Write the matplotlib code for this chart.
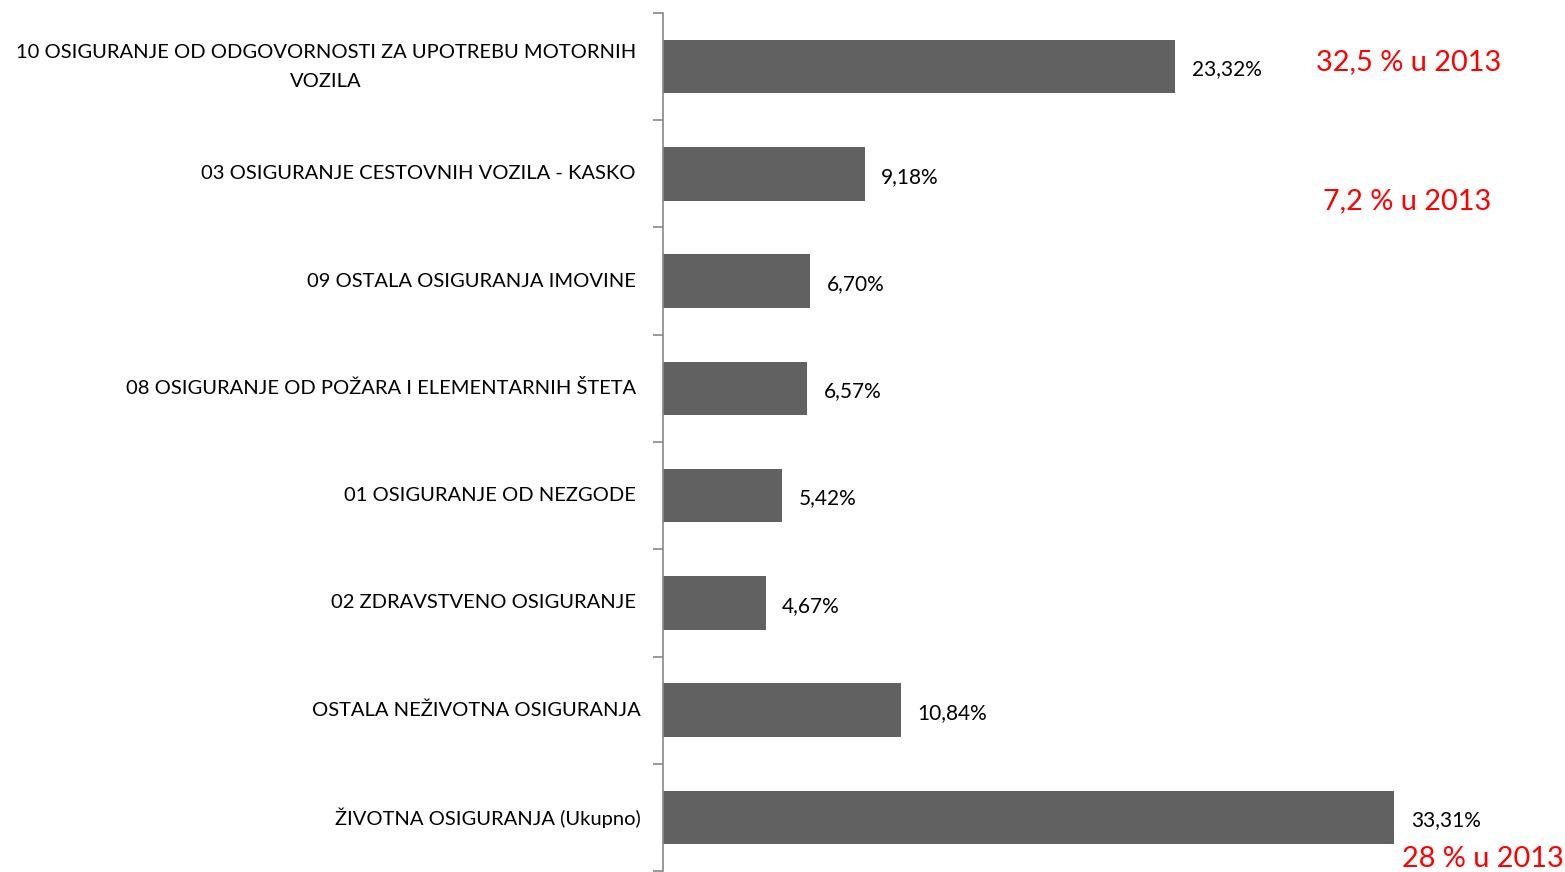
import matplotlib
matplotlib.use("Agg")
import matplotlib.pyplot as plt

categories = [
    "10 OSIGURANJE OD ODGOVORNOSTI ZA UPOTREBU MOTORNIH\nVOZILA",
    "03 OSIGURANJE CESTOVNIH VOZILA - KASKO",
    "09 OSTALA OSIGURANJA IMOVINE",
    "08 OSIGURANJE OD POŽARA I ELEMENTARNIH ŠTETA",
    "01 OSIGURANJE OD NEZGODE",
    "02 ZDRAVSTVENO OSIGURANJE",
    "OSTALA NEŽIVOTNA OSIGURANJA",
    "ŽIVOTNA OSIGURANJA (Ukupno)",
]
values = [23.32, 9.18, 6.70, 6.57, 5.42, 4.67, 10.84, 33.31]
value_labels = ["23,32%", "9,18%", "6,70%", "6,57%", "5,42%", "4,67%", "10,84%", "33,31%"]
notes = ["32,5 % u 2013", "7,2 % u 2013", "28 % u 2013"]

plt.rcParams['font.family'] = ['Lato', 'DejaVu Sans']

W, H = 1565, 872
fig = plt.figure(figsize=(W / 100, H / 100), dpi=100)
ax_left, ax_right = 663, 1565
ax_top, ax_bottom = 13, 871
ax = fig.add_axes([ax_left / W, 1 - ax_bottom / H, (ax_right - ax_left) / W, (ax_bottom - ax_top) / H])

n = len(categories)
ypos = list(range(n))
ax.barh(ypos, values, height=0.5, color="#616161")
ax.set_ylim(n - 0.5, -0.5)
px_per_unit = (1175 - 663) / 23.32
ax.set_xlim(0, (ax_right - ax_left) / px_per_unit)

for spine in ["top", "right", "bottom"]:
    ax.spines[spine].set_visible(False)
ax.spines["left"].set_color("#888888")
ax.spines["left"].set_linewidth(1.2)
ax.set_xticks([])
ax.set_yticks([i - 0.5 for i in range(n + 1)], minor=False)
ax.set_yticklabels([])
ax.tick_params(axis="y", length=7, width=1.2, color="#888888", direction="out")

for i, cat in enumerate(categories):
    off = -16 if i >= 6 else -19.5
    ax.annotate(cat, xy=(0, i), xycoords=("axes fraction", "data"),
                xytext=(off, 0), textcoords="offset points",
                ha="right", va="center", multialignment="center",
                fontsize=14.5, color="#000000", linespacing=1.85)

for i, (v, lab) in enumerate(zip(values, value_labels)):
    ax.annotate(lab, xy=(v, i), xytext=(12, -2), textcoords="offset points",
                ha="left", va="center", fontsize=15, color="#000000")

fig.text(1409 / W, 1 - 62 / H, notes[0], ha="center", va="center", fontsize=20.8, color="#ff0000")
fig.text(1407 / W, 1 - 201 / H, notes[1], ha="center", va="center", fontsize=20.8, color="#ff0000")
fig.text(1483 / W, 1 - 859 / H, notes[2], ha="center", va="center", fontsize=20.8, color="#ff0000")

fig.savefig("out.png", dpi=100, facecolor="white")
